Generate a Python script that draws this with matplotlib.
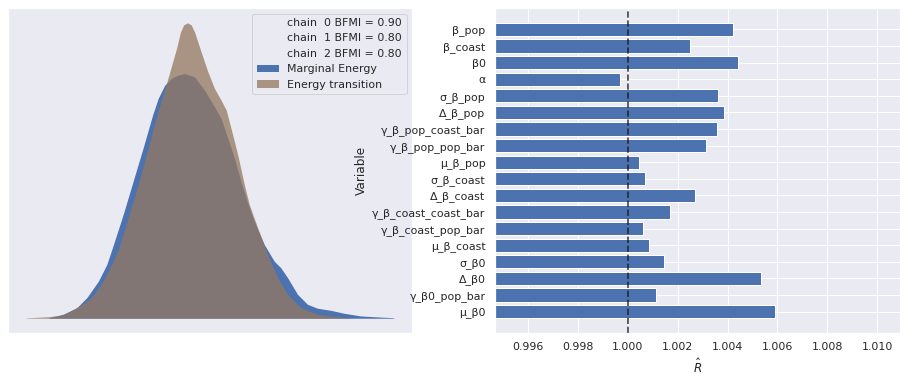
import numpy as np
import matplotlib
matplotlib.use("Agg")
import matplotlib.pyplot as plt
import seaborn as sns

sns.set_theme()
plt.rcParams['font.family'] = ['DejaVu Sans']

# energy densities (centred energy, density)
marg_x = [-3.5, -3.12, -2.78, -2.53, -2.24, -2.03, -1.89, -1.62, -1.37, -1.12,
          -0.88, -0.74, -0.575, -0.41, -0.25, -0.075, 0.175, 0.425, 0.675, 0.84,
          1.01, 1.175, 1.34, 1.51, 1.675, 1.925, 2.175, 2.34, 2.51, 2.76,
          3.01, 3.26, 3.59, 3.925, 4.34, 4.76, 5.175]
marg_d = [0.0005, 0.0061, 0.0162, 0.0314, 0.0565, 0.0818, 0.1071, 0.1576, 0.208, 0.2586,
          0.309, 0.3344, 0.3545, 0.3647, 0.3697, 0.3723, 0.3671, 0.347, 0.3217, 0.3041,
          0.2738, 0.2435, 0.208, 0.1753, 0.1474, 0.1121, 0.0868, 0.0768, 0.0617, 0.0364,
          0.0212, 0.0152, 0.0121, 0.0076, 0.0035, 0.002, 0.0008]
trans_x = [-4.05, -3.5, -3.2, -2.95, -2.7, -2.41, -2.12, -1.91, -1.725, -1.47,
           -1.22, -0.99, -0.77, -0.52, -0.28, -0.18, -0.1, 0.0, 0.09, 0.175,
           0.34, 0.51, 0.675, 0.84, 0.97, 1.09, 1.26, 1.425, 1.55, 1.76,
           2.01, 2.26, 2.51, 2.84, 3.26, 3.675, 4.09]
trans_d = [0.0005, 0.0023, 0.0045, 0.0098, 0.0197, 0.0314, 0.0565, 0.0818, 0.1071, 0.1576,
           0.208, 0.2586, 0.309, 0.3595, 0.4101, 0.4353, 0.4462, 0.4495, 0.4462, 0.4353,
           0.405, 0.3747, 0.3495, 0.3318, 0.3167, 0.2889, 0.2485, 0.203, 0.1727, 0.1374,
           0.097, 0.0617, 0.0364, 0.0162, 0.0061, 0.0026, 0.0008]
bfmi = [0.90, 0.80, 0.80]

# r-hat per variable, top to bottom
variables = ['β_pop', 'β_coast', 'β0', 'α', 'σ_β_pop', 'Δ_β_pop',
             'γ_β_pop_coast_bar', 'γ_β_pop_pop_bar', 'μ_β_pop', 'σ_β_coast',
             'Δ_β_coast', 'γ_β_coast_coast_bar', 'γ_β_coast_pop_bar', 'μ_β_coast',
             'σ_β0', 'Δ_β0', 'γ_β0_pop_bar', 'μ_β0']
rhat = [1.00420, 1.00248, 1.00440, 0.99967, 1.00360, 1.00384,
        1.00356, 1.00312, 1.00044, 1.00068,
        1.00268, 1.00168, 1.00060, 1.00085,
        1.00144, 1.00533, 1.00112, 1.00592]

fig = plt.figure(figsize=(907 / 72, 382 / 72), dpi=72)
ax1 = fig.add_axes([8 / 907, 49 / 382, 404 / 907, 325 / 382])
ax2 = fig.add_axes([495 / 907, 49 / 382, 405 / 907, 325 / 382])

# energy plot
handles = []
for i, b in enumerate(bfmi):
    h, = ax1.plot([], [], alpha=0, label=f"chain {i:>2} BFMI = {b:.2f}")
    handles.append(h)
h1 = ax1.fill_between(marg_x, marg_d, color='#4C72B0', alpha=1, lw=0, label='Marginal Energy')
h2 = ax1.fill_between(trans_x, trans_d, color='#937860', alpha=0.75, lw=0, label='Energy transition')
ax1.set_xticks([])
ax1.set_yticks([])
ax1.legend(handles=handles + [h1, h2], loc='upper right', fontsize=11)

# r-hat bars
ypos = np.arange(len(variables))
ax2.barh(ypos, rhat, height=0.8, color='#4C72B0', edgecolor='white', linewidth=1)
ax2.axvline(1.0, color='k', ls='--', lw=1.7, alpha=0.8)
ax2.set_yticks(ypos)
ax2.set_yticklabels(variables, fontsize=11)
ax2.invert_yaxis()
ax2.set_xlim(min(rhat) - 0.005, max(rhat) + 0.005)
ax2.set_xticks([0.996, 0.998, 1.000, 1.002, 1.004, 1.006, 1.008, 1.010])
ax2.set_xticklabels(['0.996', '0.998', '1.000', '1.002', '1.004', '1.006', '1.008', '1.010'],
                    fontsize=11)
ax2.set_xlabel(r'$\hat{R}$', fontsize=12)
ax2.set_ylabel('Variable', fontsize=12)

fig.savefig('out.png', dpi=72)
